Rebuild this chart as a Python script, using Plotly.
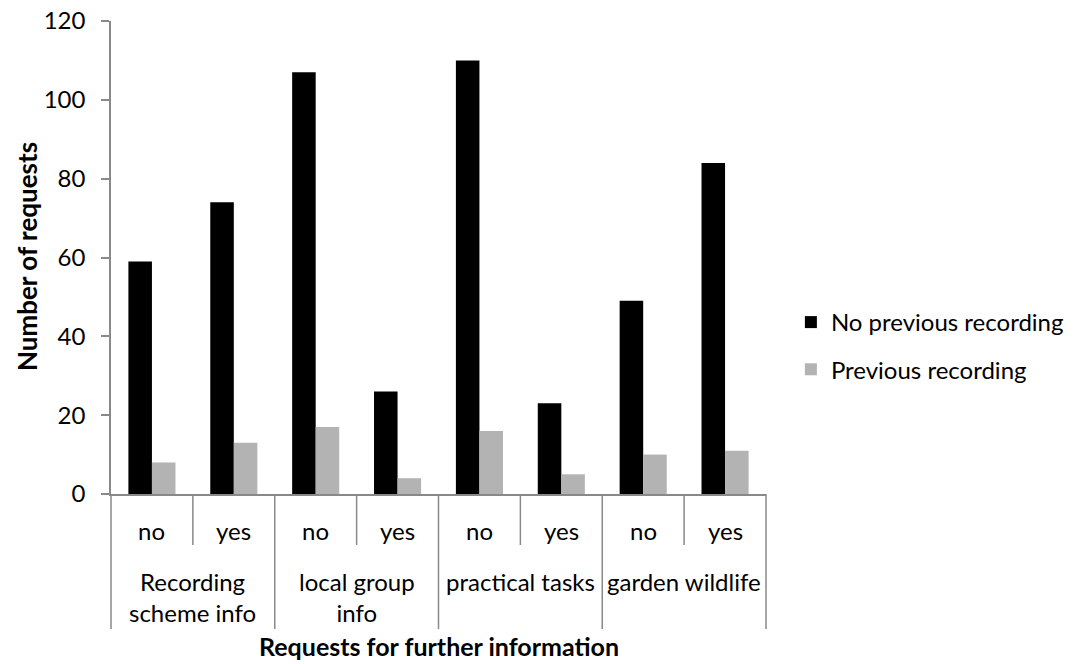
import plotly.graph_objects as go

# Requests for further information, split by answer and by recording history
groups = ["Recording<br>scheme info", "local group<br>info", "practical tasks", "garden wildlife"]
answers = ["no", "yes"]
no_previous = [59, 74, 107, 26, 110, 23, 49, 84]
previous = [8, 13, 17, 4, 16, 5, 10, 11]

series_names = ["No previous recording", "Previous recording"]
series_colors = ["#000000", "#b3b3b3"]

level1 = [g for g in groups for _ in answers]
level2 = [a for _ in groups for a in answers]

FONT = "Lato"
AXIS_GREY = "#898989"

# plot-area geometry in pixels (used to place the category table under the axis)
W, H = 1080, 664
L, R, T, B = 111, 314, 21, 170
plot_h = H - T - B


def py(pixel_y):
    """Convert a pixel row below the top of the figure to paper y."""
    return (H - B - pixel_y) / plot_h


fig = go.Figure()
for name, vals, col, grp in zip(series_names, [no_previous, previous], series_colors, ["a", "b"]):
    fig.add_trace(go.Bar(
        x=[level1, level2], y=vals, name=name, legendgroup=grp,
        marker=dict(color=col, line=dict(width=0)),
    ))

fig.update_layout(
    width=W, height=H,
    margin=dict(l=L, r=R, t=T, b=B, autoexpand=False),
    paper_bgcolor="white", plot_bgcolor="white",
    barmode="group", bargap=0.425, bargroupgap=0,
    font=dict(family=FONT, size=24, color="#000000"),
    showlegend=True,
    legend=dict(
        x=1.038, xanchor="left", xref="paper", y=py(346), yanchor="middle",
        font=dict(family=FONT, size=24, color="#000000"),
        traceorder="grouped", tracegroupgap=13, itemwidth=30,
        bgcolor="rgba(0,0,0,0)",
    ),
)

fig.update_xaxes(
    type="multicategory",
    showline=True, linecolor=AXIS_GREY, linewidth=1.5,
    ticks="", showticklabels=False, showdividers=False,
    showgrid=False, zeroline=False,
)
fig.update_yaxes(
    range=[0, 120], dtick=20, tick0=0,
    showline=True, linecolor=AXIS_GREY, linewidth=1.5,
    ticks="outside", ticklen=8, tickcolor=AXIS_GREY, tickwidth=1.5,
    showgrid=False, zeroline=False,
    ticklabelstandoff=11,
    tickfont=dict(family=FONT, size=24, color="#000000"),
)

# category table below the x axis: short rules between answers, long rules between groups
n_cat = len(level2)
for k in range(n_cat + 1):
    bottom = 629 if k % 2 == 0 else 545
    fig.add_shape(
        type="line", xref="paper", yref="paper",
        x0=k / n_cat, x1=k / n_cat, y0=0, y1=py(bottom),
        line=dict(color=AXIS_GREY, width=1.5),
    )

for i, ans in enumerate(level2):
    fig.add_annotation(
        text=ans, xref="paper", yref="paper", x=(i + 0.5) / n_cat, y=py(530),
        xanchor="center", yanchor="middle", showarrow=False,
        font=dict(family=FONT, size=24, color="#000000"),
    )

for j, grp in enumerate(groups):
    fig.add_annotation(
        text=grp, xref="paper", yref="paper", x=(2 * j + 1) / n_cat, y=py(565),
        xanchor="center", yanchor="top", showarrow=False,
        font=dict(family=FONT, size=24, color="#000000"),
    )

fig.add_annotation(
    text="<b>Number of requests</b>", textangle=-90,
    xref="paper", yref="paper", x=(27 - L) / (W - L - R), y=py(257),
    xanchor="center", yanchor="middle",
    showarrow=False, font=dict(family=FONT, size=26, color="#000000"),
)
fig.add_annotation(
    text="<b>Requests for further information</b>",
    xref="paper", yref="paper", x=0.5, y=py(646), xanchor="center", yanchor="middle",
    showarrow=False, font=dict(family=FONT, size=25, color="#000000"),
)

fig.write_html("out.html")
